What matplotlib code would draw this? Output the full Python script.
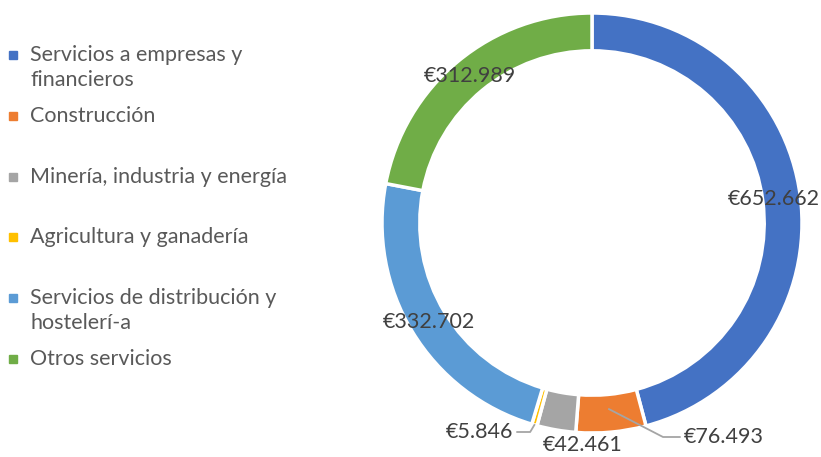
import numpy as np
import matplotlib
matplotlib.use('Agg')
from matplotlib import pyplot as plt
from matplotlib.patches import Rectangle

plt.rcParams['font.family'] = ['Lato', 'DejaVu Sans']

categories = ['Servicios a empresas y\nfinancieros', 'Construcción',
              'Minería, industria y energía', 'Agricultura y ganadería',
              'Servicios de distribución y\nhostelerí-a', 'Otros servicios']
values = [652662, 76493, 42461, 5846, 332702, 312989]
value_labels = ['€652.662', '€76.493', '€42.461', '€5.846', '€332.702', '€312.989']
colors = ['#4472C4', '#ED7D31', '#A5A5A5', '#FFC000', '#5B9BD5', '#70AD47']

W, H = 821, 457
CX, CY, R = 592, 223, 210   # donut centre / radius in pixels
TEXT = '#404040'
LEG_TEXT = '#595959'

fig = plt.figure(figsize=(W / 100, H / 100), dpi=100)
ax = fig.add_axes([0, 0, 1, 1])

wedges, _ = ax.pie(values, startangle=90, counterclock=False, radius=1,
                   colors=colors,
                   wedgeprops=dict(width=0.18, edgecolor='white', linewidth=2.5))
ax.set_aspect('auto')
ax.set_xlim(-CX / R, (W - CX) / R)
ax.set_ylim(-(H - CY) / R, CY / R)
ax.axis('off')


def to_data(px, py):
    return (px - CX) / R, (CY - py) / R


def mid_angle(w):
    return np.deg2rad((w.theta1 + w.theta2) / 2)


fs = 15.5
# labels inside the ring for the big slices
for i, rr in [(0, 0.875), (4, 0.91), (5, 0.91)]:
    a = mid_angle(wedges[i])
    ax.text(rr * np.cos(a), rr * np.sin(a), value_labels[i], ha='center', va='center',
            fontsize=fs, color=TEXT)

# small slices: labels outside with leader lines
leader = '#A5A5A5'

# Construcción
a = mid_angle(wedges[1])
p0 = (0.89 * np.cos(a), 0.89 * np.sin(a))
lx, ly = to_data(684, 437)
ax.plot([p0[0], lx - 0.1, lx - 0.02], [p0[1], ly, ly], color=leader, lw=1.3)
ax.text(lx, ly, value_labels[1], ha='left', va='center', fontsize=fs, color=TEXT)

# Minería
lx, ly = to_data(583, 445)
ax.text(lx, ly, value_labels[2], ha='center', va='center', fontsize=fs, color=TEXT)

# Agricultura
a = mid_angle(wedges[3])
p0 = (1.0 * np.cos(a), 1.0 * np.sin(a))
lx, ly = to_data(513, 432)
ax.plot([lx + 0.02, p0[0] - 0.02, p0[0]], [ly, ly, p0[1]], color=leader, lw=1.3)
ax.text(lx, ly, value_labels[3], ha='right', va='center', fontsize=fs, color=TEXT)

# legend drawn by hand
for i, (lab, c) in enumerate(zip(categories, colors)):
    y0 = 55 + i * 60.8
    fig.patches.append(Rectangle((9 / W, 1 - (y0 + 4) / H), 8 / W, 8 / H,
                                 transform=fig.transFigure, color=c))
    for k, line in enumerate(lab.split('\n')):
        fig.text(30 / W, 1 - (y0 + k * 25) / H, line, ha='left', va='center',
                 fontsize=fs, color=LEG_TEXT)

fig.savefig('out.png', dpi=100)
